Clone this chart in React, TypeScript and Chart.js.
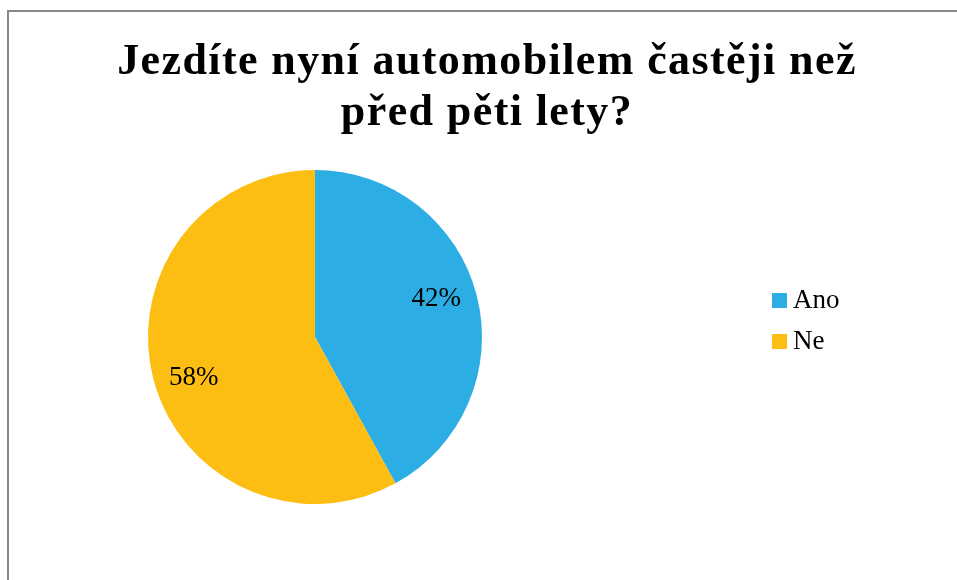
import React, { useEffect, useRef } from "react";
import { Chart, registerables } from "chart.js";

Chart.register(...registerables);

const categories = ["Ano", "Ne"];
const values = [42, 58];
const colors = ["#2CADE3", "#FDBE13"];
const titleLines = ["Jezdíte nyní automobilem častěji než", "před pěti lety?"];

const FONT = "'Liberation Serif', 'DejaVu Serif', serif";

const overlayPlugin = {
  id: "overlay",
  afterDraw(chart: any) {
    const ctx = chart.ctx;
    ctx.save();
    // title
    ctx.fillStyle = "#000";
    ctx.font = `bold 44px ${FONT}`;
    (ctx as any).letterSpacing = "1.4px";
    ctx.textAlign = "center";
    ctx.textBaseline = "alphabetic";
    ctx.fillText(titleLines[0], 487, 74);
    ctx.fillText(titleLines[1], 487, 125);
    (ctx as any).letterSpacing = "0px";

    // data labels
    const meta = chart.getDatasetMeta(0);
    const total = values.reduce((a, b) => a + b, 0);
    ctx.font = `27px ${FONT}`;
    ctx.textBaseline = "middle";
    meta.data.forEach((arc: any, i: number) => {
      const p = arc.getProps(["x", "y", "startAngle", "endAngle", "outerRadius"], true);
      const mid = (p.startAngle + p.endAngle) / 2;
      const r = p.outerRadius * 0.75;
      const x = p.x + Math.cos(mid) * r;
      const y = p.y + Math.sin(mid) * r * 1.27 + 1;
      ctx.fillText(Math.round((values[i] / total) * 100) + "%", x, y);
    });

    // legend
    ctx.textAlign = "left";
    ctx.textBaseline = "alphabetic";
    ctx.font = `27px ${FONT}`;
    categories.forEach((c, i) => {
      const base = 308 + i * 41;
      ctx.fillStyle = colors[i];
      ctx.fillRect(772, base - 15, 15, 15);
      ctx.fillStyle = "#000";
      ctx.fillText(c, 793, base);
    });
    ctx.restore();
  },
};

export default function App() {
  const ref = useRef<HTMLCanvasElement>(null);
  useEffect(() => {
    if (!ref.current) return;
    const chart = new Chart(ref.current, {
      type: "pie",
      data: {
        labels: categories,
        datasets: [
          {
            data: values,
            backgroundColor: colors,
            borderWidth: 0,
          },
        ],
      },
      options: {
        animation: false,
        responsive: false,
        layout: { padding: { left: 148, right: 475, top: 170, bottom: 76 } },
        plugins: {
          legend: { display: false },
          title: { display: false },
          tooltip: { enabled: false },
        },
      },
      plugins: [overlayPlugin],
    });
    return () => chart.destroy();
  }, []);
  return (
    <div style={{ position: "fixed", left: 0, top: 0, width: 957, height: 580, background: "#fff" }}>
      <div
        style={{
          position: "absolute",
          left: 7,
          top: 10,
          width: 1000,
          height: 1000,
          borderLeft: "2px solid #888",
          borderTop: "2px solid #888",
          boxSizing: "border-box",
        }}
      />
      <canvas ref={ref} width={957} height={580} style={{ position: "absolute", left: 0, top: 0 }} />
    </div>
  );
}
